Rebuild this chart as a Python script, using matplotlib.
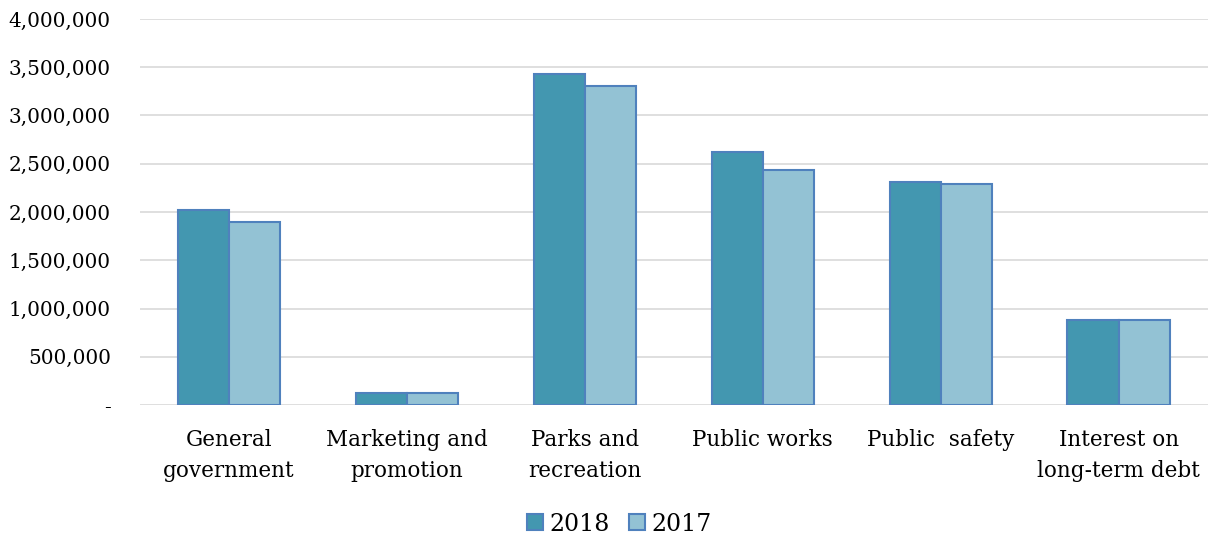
import matplotlib
matplotlib.use("Agg")
import matplotlib.pyplot as plt
import numpy as np
from matplotlib.ticker import FuncFormatter

categories = ["General\ngovernment", "Marketing and\npromotion", "Parks and\nrecreation",
              "Public works", "Public  safety", "Interest on\nlong-term debt"]
values_2018 = [2020000, 125000, 3430000, 2620000, 2310000, 880000]
values_2017 = [1895000, 120000, 3305000, 2435000, 2290000, 880000]
series_labels = ["2018", "2017"]

plt.rcParams['font.family'] = ['DejaVu Serif']

fig = plt.figure(figsize=(12.15, 5.38), dpi=100)
ax = fig.add_axes([0.1152, 0.2472, 0.994 - 0.1152, 0.9647 - 0.2472])

x = np.arange(len(categories))
w = 0.288
edge = "#4F81BD"
ax.bar(x - w / 2, values_2018, w, color="#4397B0", edgecolor=edge, linewidth=1.5, label=series_labels[0], zorder=3)
ax.bar(x + w / 2, values_2017, w, color="#93C2D4", edgecolor=edge, linewidth=1.5, label=series_labels[1], zorder=3)

ax.set_xlim(-0.5, len(categories) - 0.5)
ax.set_ylim(0, 4000000)
ax.set_yticks(np.arange(0, 4000001, 500000))
ax.yaxis.set_major_formatter(FuncFormatter(lambda v, p: "-" if v == 0 else f"{int(v):,}"))
ax.grid(axis='y', color="#D9D9D9", linewidth=1.2, zorder=0)
ax.set_axisbelow(True)
for s in ax.spines.values():
    s.set_visible(False)
ax.tick_params(axis='both', length=0, colors="#000000")
ax.tick_params(axis='y', pad=21, labelsize=14.4)
ax.tick_params(axis='x', pad=17, labelsize=15.5)
ax.set_xticks(x)
ax.set_xticklabels(categories, linespacing=1.55)

fig.legend(loc='lower center', bbox_to_anchor=(0.51, -0.035), ncol=2, frameon=False,
           fontsize=17, handlelength=0.65, handleheight=0.65, handletextpad=0.3, columnspacing=0.8)

fig.savefig("out.png", dpi=100)
